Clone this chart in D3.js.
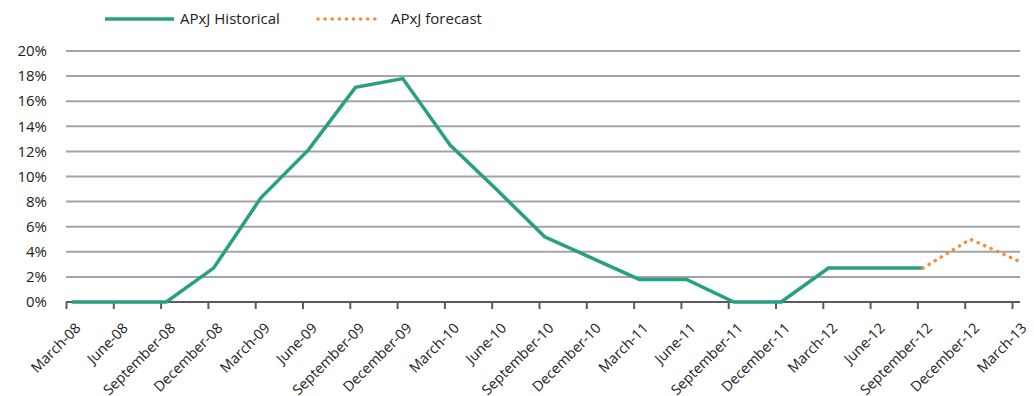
<!DOCTYPE html>
<html>
<head>
<meta charset="utf-8">
<script src="https://cdn.jsdelivr.net/npm/d3@7"></script>
<style>
  body { margin: 0; background: #fff; }
  text { font-family: "Open Sans", "Noto Sans", sans-serif; fill: #222; }
</style>
</head>
<body>
<svg id="chart" width="1034" height="396"></svg>
<script>
const quarters = ["March-08", "June-08", "September-08", "December-08", "March-09", "June-09",
  "September-09", "December-09", "March-10", "June-10", "September-10", "December-10",
  "March-11", "June-11", "September-11", "December-11", "March-12", "June-12",
  "September-12", "December-12", "March-13"]
// values in %, null = no data
const historical = [0, 0, 0, 2.7, 8.3, 12.1, 17.1, 17.8, 12.5, 8.9, 5.2, 3.5,
  1.8, 1.8, 0, 0, 2.7, 2.7, 2.7, null, null]
const forecast = [null, null, null, null, null, null, null, null, null, null, null, null,
  null, null, null, null, null, null, 2.7, 5.0, 3.3]
const yTicks = [0, 2, 4, 6, 8, 10, 12, 14, 16, 18, 20]
const legendNames = ["APxJ Historical", "APxJ forecast"]

const green = "#27a07f", orange = "#f58b3b"
const margin = {top: 51, right: 14, bottom: 94, left: 66}
const width = 1034 - margin.left - margin.right
const height = 396 - margin.top - margin.bottom

const svg = d3.select("#chart")
const g = svg.append("g").attr("transform", "translate(" + margin.left + "," + margin.top + ")")

let x = d3.scalePoint().domain(quarters).range([0, 946])
let shift = x.step() * 0.12   // points sit a little right of their tick
let y = d3.scaleLinear().domain([0, 20]).range([height, 0])

// gridlines
g.selectAll(".grid").data(yTicks.filter(d => d > 0)).enter().append("line")
  .attr("x1", 0).attr("x2", width)
  .attr("y1", d => y(d)).attr("y2", d => y(d))
  .attr("stroke", "#a3a3a5").attr("stroke-width", 2)

// y labels
g.selectAll(".ylab").data(yTicks).enter().append("text")
  .attr("x", -19).attr("y", d => y(d)).attr("dy", "0.35em")
  .attr("text-anchor", "end").style("font-size", "15px")
  .text(d => d + "%")

// x axis
let xAxis = g.append("g").attr("transform", "translate(0," + height + ")")
  .call(d3.axisBottom(x).tickSize(7).tickSizeOuter(0))
xAxis.select(".domain").attr("d", "M0,0H" + width).attr("stroke", "#5a5a5c").attr("stroke-width", 2)
xAxis.selectAll(".tick line").attr("stroke", "#5a5a5c").attr("stroke-width", 2)
xAxis.selectAll(".tick text")
  .attr("text-anchor", "end")
  .attr("transform", "translate(8,20) rotate(-45)")
  .attr("dy", "0.7em").attr("y", 0)
  .style("font-size", "14.3px").style("font-family", "'Open Sans', sans-serif").attr("fill", "#222")

let line = d3.line()
  .defined(d => d != null)
  .x((d, i) => x(quarters[i]) + shift)
  .y(d => y(d))

g.append("path").datum(historical)
  .attr("d", line).attr("fill", "none")
  .attr("stroke", green).attr("stroke-width", 3.5).attr("stroke-linejoin", "miter")

g.append("path").datum(forecast)
  .attr("d", line).attr("fill", "none")
  .attr("stroke", orange).attr("stroke-width", 3.5)
  .attr("stroke-dasharray", "0.1 7").attr("stroke-linecap", "round")

// legend
let legend = svg.append("g").attr("transform", "translate(105,19)")
legend.append("line").attr("x1", 0).attr("x2", 69).attr("stroke", green).attr("stroke-width", 3.5)
legend.append("text").attr("x", 75).attr("dy", "0.35em").style("font-size", "15px").text(legendNames[0])
legend.append("line").attr("x1", 213).attr("x2", 273).attr("stroke", orange).attr("stroke-width", 3.5)
  .attr("stroke-dasharray", "0.1 7").attr("stroke-linecap", "round")
legend.append("text").attr("x", 286).attr("dy", "0.35em").style("font-size", "15px").text(legendNames[1])
</script>
</body>
</html>
